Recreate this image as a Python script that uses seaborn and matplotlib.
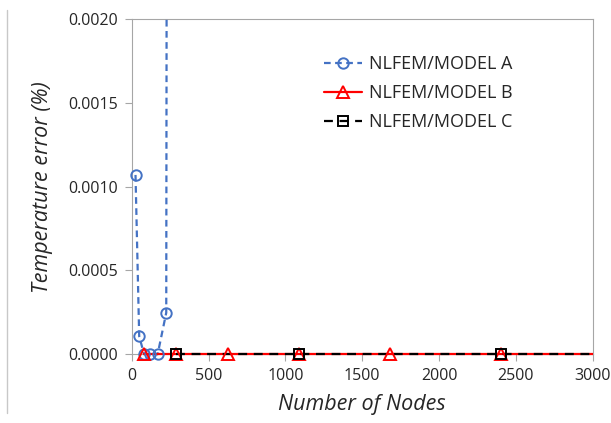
import matplotlib
matplotlib.use("Agg")
import matplotlib.pyplot as plt
from matplotlib.lines import Line2D
from matplotlib.patches import Rectangle
import seaborn as sns
import pandas as pd
import numpy as np

# ---- data ----
nodes_a = [25, 49, 81, 121, 169, 225, 289]
err_a = [0.00107, 0.000107, 0.0, 0.0, 0.0, 0.000248, 0.05]
nodes_b = [81, 289, 625, 1089, 1681, 2401, 3249]
err_b = [0.0, 0.0, 0.0, 0.0, 0.0, 0.0, 0.0]
nodes_c = [289, 1089, 2401, 4225]
err_c = [0.0, 0.0, 0.0, 0.0]
labels = ["NLFEM/MODEL A", "NLFEM/MODEL B", "NLFEM/MODEL C"]
x_ticks = [0, 500, 1000, 1500, 2000, 2500, 3000]
y_ticks = [0.0, 0.0005, 0.0010, 0.0015, 0.0020]

sns.set_theme(style="white")
plt.rcParams['font.family'] = ['Open Sans', 'DejaVu Sans']

fig = plt.figure(figsize=(6.11, 4.23), dpi=100)
ax = fig.add_axes([0.2155, 0.1624, 0.7545, 0.7926])

XMAX, YMAX = 3000, 0.002
series = [
    (nodes_a, err_a, "#4472C4", (0, (3, 2)), "o", labels[0]),
    (nodes_b, err_b, "#FF0000", "-", "^", labels[1]),
    (nodes_c, err_c, "#000000", (0, (4, 3)), "s", labels[2]),
]
msize = {"o": 7.5, "^": 8, "s": 7}
handles = []
clip_rect = Rectangle((0, -0.05), 1, 1.05, transform=ax.transAxes)
for i, (xs, ys, col, ls, mk, lab) in enumerate(series):
    df = pd.DataFrame({"x": xs, "y": ys})
    n0 = len(ax.lines)
    sns.lineplot(data=df, x="x", y="y", ax=ax, color=col, linestyle=ls,
                 linewidth=1.6, sort=False, estimator=None, legend=False,
                 zorder=3 + i * 0.1)
    for ln in ax.lines[n0:]:
        ln.set_clip_path(clip_rect)
    dm = df[(df.x <= XMAX) & (df.y <= YMAX)]
    sns.lineplot(data=dm, x="x", y="y", ax=ax, color=col, linestyle="",
                 marker=mk, markersize=msize[mk], markerfacecolor="none",
                 markeredgecolor=col, markeredgewidth=1.4, sort=False,
                 estimator=None, legend=False, clip_on=False, zorder=4 + i * 0.1)
    handles.append(Line2D([], [], color=col, linestyle=ls, linewidth=1.6,
                          marker=mk, markersize=msize[mk], markerfacecolor="none",
                          markeredgecolor=col, markeredgewidth=1.4))

ax.set_xlim(0, XMAX)
ax.set_ylim(0, YMAX)
ax.set_xticks(x_ticks)
ax.set_yticks(y_ticks)
ax.set_yticklabels([f"{v:.4f}" for v in y_ticks])
ax.tick_params(axis="both", direction="out", length=5, width=0.8,
               color="#A6A6A6", labelsize=11.5, labelcolor="#262626", pad=3)
ax.tick_params(axis="x", bottom=True, pad=5)
ax.tick_params(axis="y", left=True, pad=5)
for sp in ax.spines.values():
    sp.set_color("#A6A6A6")
    sp.set_linewidth(0.8)

ax.set_xlabel("Number of Nodes", fontsize=15.5, fontstyle="italic", color="#262626", labelpad=7)
ax.set_ylabel("Temperature error (%)", fontsize=15.5, fontstyle="italic", color="#262626", labelpad=11)

leg = ax.legend(handles, labels, loc="upper left", bbox_to_anchor=(0.382, 0.94),
                frameon=False, fontsize=13, handlelength=2.1, handletextpad=0.4,
                labelspacing=0.6, labelcolor="#262626")

fig.add_artist(Line2D([0.0115, 0.0115], [0.024, 0.976], color="#C8C8C8", linewidth=1))

fig.savefig("out.png", dpi=100)
